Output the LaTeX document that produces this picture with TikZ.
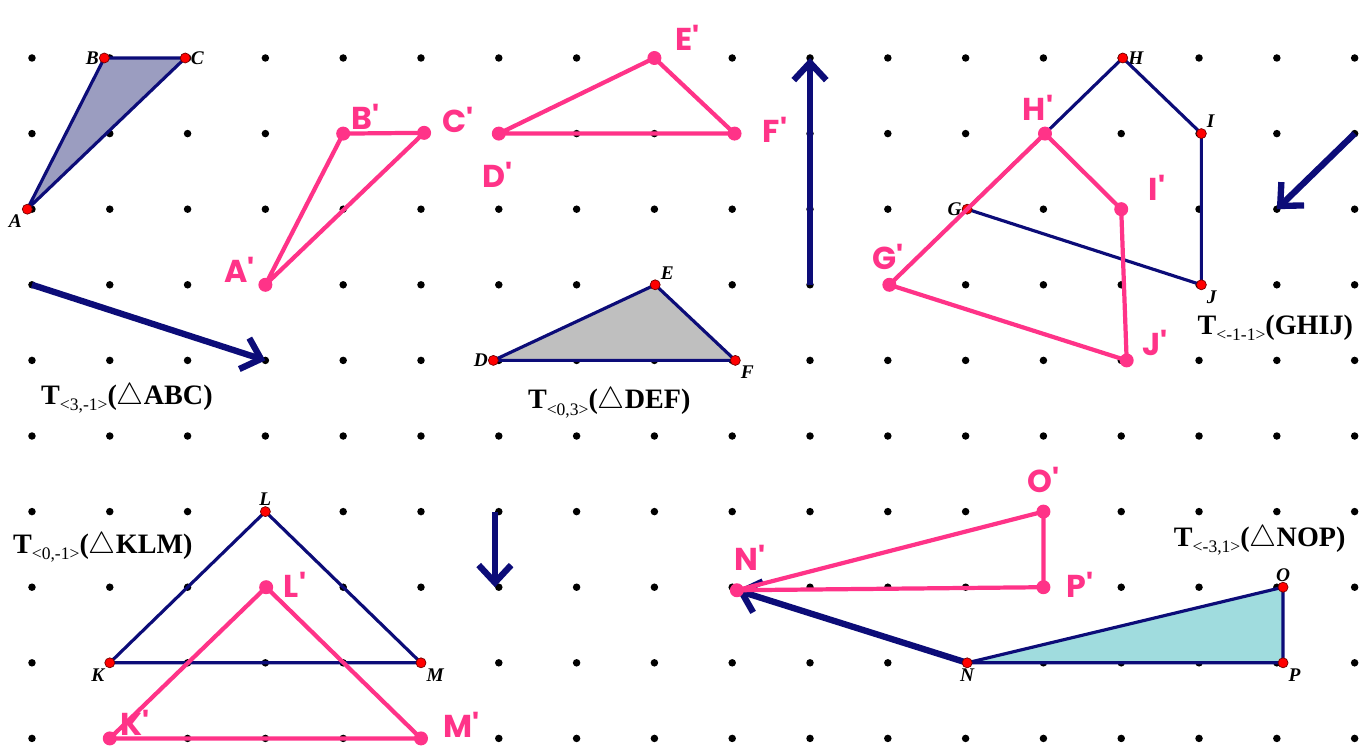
\documentclass[tikz,border=0pt]{standalone}
\usepackage{fontspec}
\setmainfont{Liberation Serif}
\newfontfamily\handfont{Poppins}
\usetikzlibrary{arrows.meta}

\definecolor{navy}{RGB}{12,12,120}
\definecolor{marker}{RGB}{255,51,136}
\definecolor{shadeABC}{RGB}{155,157,192}
\definecolor{shadeDEF}{RGB}{191,191,191}
\definecolor{shadeNOP}{RGB}{160,220,222}

\tikzset{
  shape edge/.style={navy, line width=1.8pt, line join=round},
  image edge/.style={marker, line width=2.4pt, line join=round, line cap=round},
  shift vec/.style={navy, line width=3.6pt, -{Straight Barb[length=3.5mm, width=6.5mm]}},
  vertex/.style={fill=red, draw=red!45!black, line width=0.4pt},
  ptlabel/.style={font=\bfseries\itshape\fontsize{11}{12}\selectfont, inner sep=3pt},
  handlabel/.style={marker, font=\handfont\bfseries\fontsize{18}{20}\selectfont, inner sep=0pt},
  tlabel/.style={font=\bfseries\fontsize{16}{19}\selectfont, inner sep=0pt},
}
\newcommand{\shiftsub}[1]{\raisebox{-0.5ex}{\mdseries\fontsize{10}{11}\selectfont#1}}

\begin{document}
\begin{tikzpicture}[x=1.556cm, y=-1.512cm]

    \useasboundingbox (-0.411,-0.767) rectangle (17.159,9.140);

    % dot paper
    \foreach \i in {0,...,17}
      \foreach \j in {0,...,9}
        \fill (\i,\j) circle (0.075cm);

    % original figures
    \coordinate[label={[ptlabel]below left:A}] (A) at (-0.06,2);
    \coordinate[label={[ptlabel]left:B}] (B) at (0.93,0);
    \coordinate[label={[ptlabel]right:C}] (C) at (1.97,0);

    \coordinate[label={[ptlabel]left:D}] (D) at (5.93,4);
    \coordinate[label={[ptlabel]above right:E}] (E) at (8.01,3);
    \coordinate[label={[ptlabel]below right:F}] (F) at (9.04,4);

    \coordinate[label={[ptlabel]left:G}] (G) at (12.02,2);
    \coordinate[label={[ptlabel]right:H}] (H) at (14.02,0);
    \coordinate[label={[ptlabel]above right:I}] (I) at (15.03,1);
    \coordinate[label={[ptlabel]below right:J}] (J) at (15.03,3);

    \coordinate[label={[ptlabel]below left:K}] (K) at (1,8);
    \coordinate[label={[ptlabel]above:L}] (L) at (3,6);
    \coordinate[label={[ptlabel]below right:M}] (M) at (5,8);

    \coordinate[label={[ptlabel]below:N}] (N) at (12.02,8);
    \coordinate[label={[ptlabel]above:O}] (O) at (16.08,7);
    \coordinate[label={[ptlabel]below right:P}] (P) at (16.08,8);

    \fill[shadeABC] (A) -- (B) -- (C) -- cycle;
    \fill[shadeDEF] (D) -- (E) -- (F) -- cycle;
    \fill[shadeNOP] (N) -- (O) -- (P) -- cycle;

    \draw[shape edge] (A) -- (B) -- (C) -- cycle;
    \draw[shape edge] (D) -- (E) -- (F) -- cycle;
    \draw[shape edge] (G) -- (H) -- (I) -- (J) -- cycle;
    \draw[shape edge] (K) -- (L) -- (M) -- cycle;
    \draw[shape edge] (N) -- (O) -- (P) -- cycle;

    % translation vectors
    \coordinate (v1s) at (0,3);
    \coordinate (v1e) at (3,4);
    \coordinate (v2s) at (10,3);
    \coordinate (v2e) at (10,0);
    \coordinate (v3s) at (17,1);
    \coordinate (v3e) at (16,2);
    \coordinate (v4s) at (5.95,6);
    \coordinate (v4e) at (5.95,7);
    \coordinate (Nv) at (9.06,7.04);

    \draw[shift vec] (v1s) -- (v1e);
    \draw[shift vec] (v2s) -- (v2e);
    \draw[shift vec] (v3s) -- (v3e);
    \draw[shift vec] (v4s) -- (v4e);
    \draw[shift vec] (N) -- (Nv);

    \foreach \p in {A,B,C,D,E,F,G,H,I,J,K,L,M,N,O,P}
      \filldraw[vertex] (\p) circle (0.1cm);

    % images drawn by hand
    \coordinate (A') at (3,3);
    \coordinate (B') at (4,1);
    \coordinate (C') at (5.04,0.99);
    \coordinate (D') at (6,1);
    \coordinate (E') at (8,0);
    \coordinate (F') at (9.03,1);
    \coordinate (G') at (11.02,3);
    \coordinate (H') at (13.02,1);
    \coordinate (I') at (14,2);
    \coordinate (J') at (14.07,4);
    \coordinate (K') at (1,9);
    \coordinate (L') at (3.01,7);
    \coordinate (M') at (5,9);
    \coordinate (N') at (9.06,7.04);
    \coordinate (O') at (13,6);
    \coordinate (P') at (13,7);

    \draw[image edge] (A') -- (B') -- (C') -- cycle;
    \draw[image edge] (D') -- (E') -- (F') -- cycle;
    \draw[image edge] (G') -- (H') -- (I') -- (J') -- cycle;
    \draw[image edge] (K') -- (L') -- (M') -- cycle;
    \draw[image edge] (N') -- (O') -- (P') -- cycle;

    \foreach \p in {A',B',C',D',E',F',G',H',I',J',K',L',M',N',O',P'}
      \fill[marker] (\p) circle (0.14cm);

    \node[handlabel] (hA) at (2.67,2.80) {A'};
    \node[handlabel] (hB) at (4.29,0.78) {B'};
    \node[handlabel] (hC) at (5.48,0.82) {C'};
    \node[handlabel] (hD) at (5.98,1.55) {D'};
    \node[handlabel] (hE) at (8.43,-0.26) {E'};
    \node[handlabel] (hF) at (9.55,0.95) {F'};
    \node[handlabel] (hG) at (11.0,2.63) {G'};
    \node[handlabel] (hH) at (12.93,0.66) {H'};
    \node[handlabel] (hI) at (14.46,1.72) {I'};
    \node[handlabel] (hJ) at (14.43,3.77) {J'};
    \node[handlabel] (hK) at (1.32,8.80) {K'};
    \node[handlabel] (hL) at (3.38,6.97) {L'};
    \node[handlabel] (hM) at (5.52,8.82) {M'};
    \node[handlabel] (hN) at (9.23,6.61) {N'};
    \node[handlabel] (hO) at (13.0,5.58) {O'};
    \node[handlabel] (hP) at (13.47,6.97) {P'};

    % translation names
    \node[tlabel] (tABC) at (1.22,4.50) {T\shiftsub{<3,-1>}($\bigtriangleup$ABC)};
    \node[tlabel] (tDEF) at (7.42,4.56) {T\shiftsub{<0,3>}($\bigtriangleup$DEF)};
    \node[tlabel] (tGHIJ) at (15.98,3.57) {T\shiftsub{<-1-1>}(GHIJ)};
    \node[tlabel] (tKLM) at (0.91,6.47) {T\shiftsub{<0,-1>}($\bigtriangleup$KLM)};
    \node[tlabel] (tNOP) at (15.78,6.38) {T\shiftsub{<-3,1>}($\bigtriangleup$NOP)};

\end{tikzpicture}
\end{document}
